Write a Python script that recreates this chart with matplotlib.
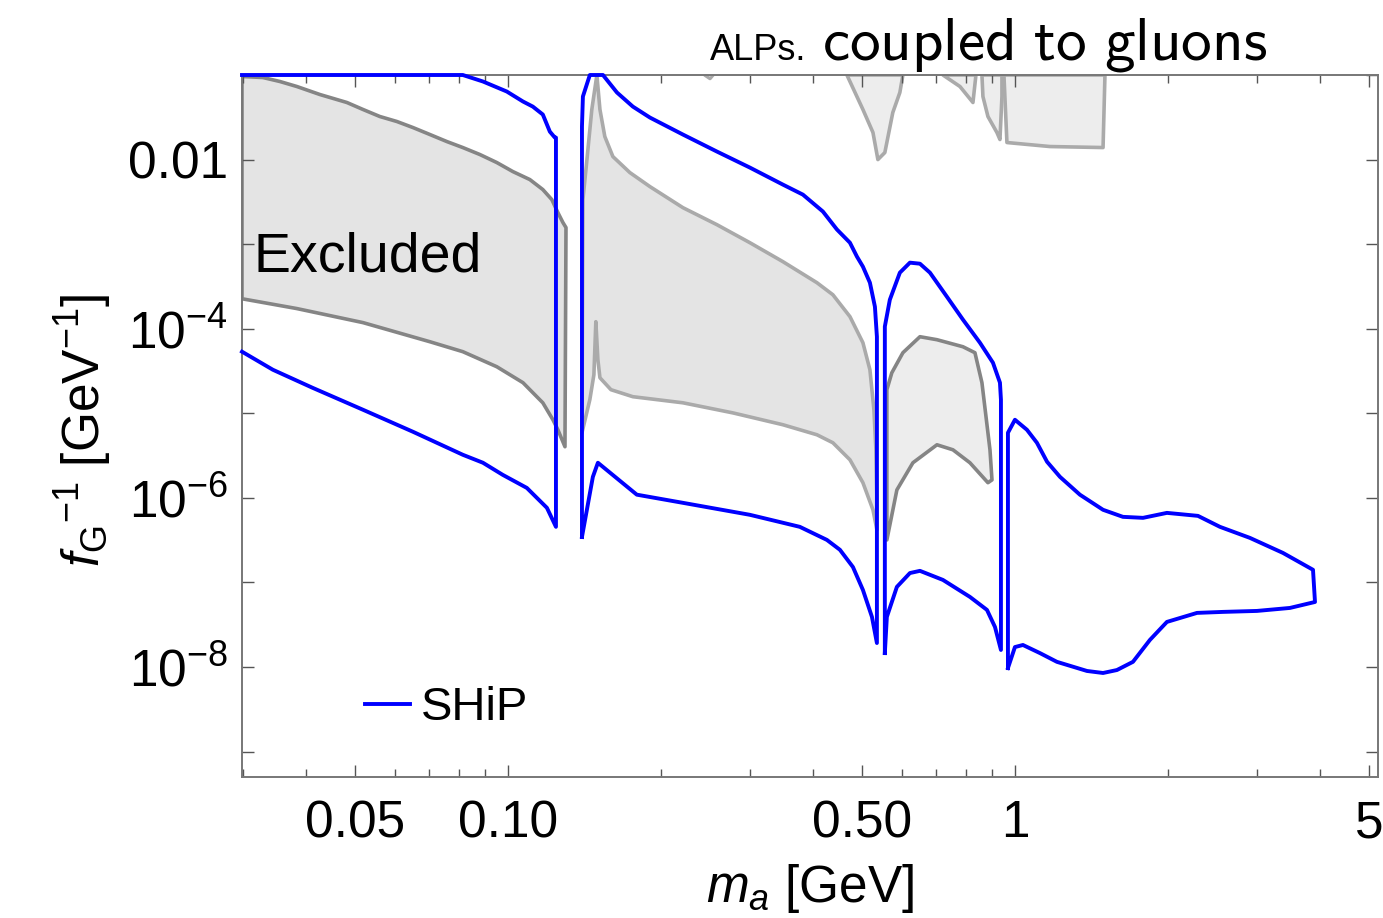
import matplotlib
matplotlib.use('Agg')
import matplotlib.pyplot as plt
import matplotlib.ticker as mticker

# ---- data: SHiP sensitivity contour (m_a [GeV], f_G^-1 [GeV^-1]), 4 pieces
ship_m1 = [0.0299, 0.0815, 0.0893, 0.0995, 0.1071, 0.1120, 0.1172, 0.1210, 0.1238, 0.1244,
           0.1244, 0.1194, 0.1090, 0.0977, 0.0893, 0.0815, 0.0650, 0.0518, 0.0412, 0.0344,
           0.0299]
ship_g1 = [0.1, 0.1, 0.0838, 0.0638, 0.0486, 0.0423, 0.0341, 0.0214, 0.0182, 0.0182,
           4.54e-7, 7.62e-7, 1.31e-6, 1.87e-6, 2.60e-6, 3.23e-6, 6.04e-6, 1.10e-5, 2.00e-5,
           3.27e-5, 5.35e-5]

ship_m2 = [0.1400, 0.1400, 0.1406, 0.1451, 0.1540, 0.1641, 0.1764, 0.1906, 0.2214, 0.2583,
           0.3001, 0.3486, 0.3818, 0.4181, 0.4456, 0.4727, 0.4880, 0.5014, 0.5176, 0.5295,
           0.5343, 0.5343,
           0.5224, 0.5014, 0.4792, 0.4517, 0.4258, 0.3765, 0.3001, 0.2214, 0.1796, 0.1505,
           0.1471, 0.1400]
ship_g2 = [3.45e-7, 0.0246, 0.0557, 0.1, 0.1, 0.0621, 0.0423, 0.0314, 0.01977, 0.01245,
           0.00804, 0.00506, 0.00385, 0.00243, 0.00149, 0.00104, 7.12e-4, 5.42e-4, 3.50e-4,
           1.82e-4, 8.04e-5, 1.92e-8,
           3.91e-8, 8.15e-8, 1.52e-7, 2.43e-7, 3.18e-7, 4.54e-7, 6.30e-7, 8.73e-7, 1.09e-6,
           2.60e-6, 1.77e-6, 3.45e-7]

ship_m3 = [0.5539, 0.5539, 0.5666, 0.5930, 0.6207, 0.6496, 0.6798, 0.7342, 0.7897, 0.8530,
           0.9050, 0.9342, 0.9384, 0.9384,
           0.9134, 0.8807, 0.8151, 0.7211, 0.6496, 0.6207, 0.5850, 0.5590, 0.5539]
ship_g3 = [1.46e-8, 1.06e-4, 2.20e-4, 4.60e-4, 6.04e-4, 5.87e-4, 4.60e-4, 2.39e-4, 1.28e-4,
           6.83e-5, 3.96e-5, 2.30e-5, 1.45e-5, 1.59e-8,
           2.97e-8, 4.73e-8, 6.74e-8, 1.07e-7, 1.37e-7, 1.29e-7, 8.85e-8, 3.91e-8, 1.46e-8]

ship_m4 = [0.9687, 0.9687, 1.0, 1.056, 1.105, 1.157, 1.227, 1.343, 1.492, 1.633, 1.789,
           1.994, 2.296, 2.537, 2.907, 3.378, 3.871, 3.906,
           3.486, 3.001, 2.572, 2.286, 1.994, 1.846, 1.709, 1.589, 1.492, 1.387, 1.210,
           1.120, 1.037, 1.0, 0.9687]
ship_g4 = [9.7e-9, 5.88e-6, 8.38e-6, 6.38e-6, 4.48e-6, 2.67e-6, 1.77e-6, 1.09e-6, 7.22e-7,
           5.96e-7, 5.80e-7, 6.64e-7, 6.12e-7, 4.54e-7, 3.36e-7, 2.23e-7, 1.41e-7, 5.87e-8,
           4.99e-8, 4.60e-8, 4.48e-8, 4.36e-8, 3.41e-8, 2.09e-8, 1.15e-8, 9.2e-9, 8.49e-9,
           8.97e-9, 1.15e-8, 1.46e-8, 1.82e-8, 1.72e-8, 9.7e-9]

# ---- data: excluded regions
excl1_m = [0.0299, 0.03287, 0.03551, 0.03836, 0.04258, 0.04814, 0.0518, 0.05591, 0.0604,
           0.0650, 0.0702, 0.0758, 0.0815, 0.0881, 0.0951, 0.1023, 0.1105, 0.1172, 0.1221,
           0.1255, 0.1284, 0.1302, 0.1296,
           0.1255, 0.1227, 0.1172, 0.1071, 0.0951, 0.0815, 0.0702, 0.0518, 0.03836, 0.0299]
excl1_g = [0.0960, 0.0934, 0.0838, 0.0731, 0.0588, 0.0473, 0.0391, 0.0323, 0.0282, 0.0239,
           0.01977, 0.01633, 0.01387, 0.01146, 0.00922, 0.00721, 0.00580, 0.00442, 0.00336,
           0.00236, 0.00180, 0.00157, 4.02e-6,
           6.38e-6, 8.38e-6, 1.33e-5, 2.30e-5, 3.55e-5, 5.35e-5, 7.01e-5, 1.18e-4, 1.73e-4,
           2.26e-4]

excl2_m = [0.1400, 0.1406, 0.1432, 0.1464, 0.1498, 0.1519, 0.1553, 0.1611, 0.1740, 0.1906,
           0.2214, 0.2583, 0.3001, 0.3486, 0.4069, 0.4375, 0.4727, 0.5014, 0.5176, 0.5271,
           0.5319, 0.5343, 0.5343,
           0.5248, 0.5014, 0.4727, 0.4375, 0.4069, 0.3486, 0.2779, 0.2214, 0.1764, 0.1597,
           0.1519, 0.1505, 0.1491, 0.1478, 0.1451, 0.1400]
excl2_g = [5.88e-6, 0.00336, 0.01, 0.0391, 0.1, 0.0391, 0.01873, 0.01085, 0.00702, 0.00479,
           0.00270, 0.00170, 0.00104, 6.21e-4, 3.50e-4, 2.52e-4, 1.39e-4, 6.83e-5, 3.27e-5,
           1.10e-5, 3.70e-6, 9.47e-7, 4.18e-7,
           7.22e-7, 1.51e-6, 2.82e-6, 4.48e-6, 5.57e-6, 7.32e-6, 1.01e-5, 1.33e-5, 1.57e-5,
           1.90e-5, 2.63e-5, 4.30e-5, 1.21e-4, 2.86e-5, 1.45e-5, 5.88e-6]

excl3_m = [0.5590, 0.5717, 0.6012, 0.6496, 0.7018, 0.7897, 0.8339, 0.8608, 0.8928,
           0.9010, 0.8846, 0.8151, 0.7546, 0.7018, 0.6292, 0.5850, 0.5590]
excl3_g = [1.90e-5, 3.01e-5, 5.20e-5, 8.04e-5, 7.41e-5, 6.12e-5, 5.20e-5, 2.30e-5, 3.70e-6,
           1.63e-6, 1.51e-6, 2.60e-6, 3.70e-6, 4.24e-6, 2.60e-6, 1.24e-6, 3.18e-7]

# small regions hanging from the top edge
top_m = [
    [0.4663, 0.5014, 0.5248, 0.5367, 0.5539, 0.5743, 0.5930, 0.6012],
    [0.7211, 0.7790, 0.8264, 0.8377],
    [0.8608, 0.8647, 0.8846, 0.9214, 0.9342, 0.9427, 0.9427],
    [0.9512, 0.9643, 1.172, 1.492, 1.505],
    [0.2446, 0.2504, 0.2537],
]
top_g = [
    [0.1, 0.0391, 0.0209, 0.01, 0.0121, 0.0360, 0.0621, 0.1],
    [0.1, 0.0731, 0.0473, 0.1],
    [0.1, 0.0557, 0.0323, 0.0209, 0.01726, 0.0557, 0.1],
    [0.1, 0.0159, 0.01426, 0.01387, 0.1],
    [0.1, 0.0910, 0.1],
]

x_major = [0.05, 0.1, 0.5, 1, 5]
x_major_labels = ['0.05', '0.10', '0.50', '1', '5']
x_minor = [0.03, 0.04, 0.06, 0.07, 0.08, 0.09, 0.2, 0.3, 0.4, 0.6, 0.7, 0.8, 0.9, 2, 3, 4]
y_major = [1e-9, 1e-8, 1e-7, 1e-6, 1e-5, 1e-4, 1e-3, 1e-2, 1e-1]
y_labels = {1e-2: '0.01', 1e-4: r'$10^{-4}$', 1e-6: r'$10^{-6}$', 1e-8: r'$10^{-8}$'}

# ---- style
plt.rcParams['font.family'] = ['Liberation Sans', 'DejaVu Sans']
plt.rcParams['mathtext.fontset'] = 'custom'
plt.rcParams['mathtext.rm'] = 'Liberation Sans'
plt.rcParams['mathtext.it'] = 'Liberation Sans:italic'
plt.rcParams['mathtext.bf'] = 'Liberation Sans:bold'

blue = '#0000ff'
dark_edge = '#858585'
light_edge = '#aaaaaa'

fig = plt.figure(figsize=(13.83, 9.18), dpi=100)
ax = fig.add_axes([242 / 1383, 1 - 777 / 918, 1136 / 1383, 702 / 918])
ax.set_xscale('log')
ax.set_yscale('log')

# excluded regions
ax.fill(excl1_m, excl1_g, facecolor='#e4e4e4', edgecolor=dark_edge, lw=2.6,
        joinstyle='round', zorder=1)
ax.fill(excl2_m, excl2_g, facecolor='#e4e4e4', edgecolor=light_edge, lw=2.6,
        joinstyle='round', zorder=1)
ax.fill(excl3_m, excl3_g, facecolor='#ededed', edgecolor=dark_edge, lw=2.6,
        joinstyle='round', zorder=1)
for m, g in zip(top_m, top_g):
    ax.fill(m, g, facecolor='#ededed', edgecolor=light_edge, lw=2.6, joinstyle='round', zorder=1)

# SHiP
pieces = [(ship_m1, ship_g1), (ship_m2, ship_g2), (ship_m3, ship_g3), (ship_m4, ship_g4)]
for i, (m, g) in enumerate(pieces):
    ax.plot(m, g, color=blue, lw=2.8, zorder=3, clip_on=False,
            solid_joinstyle='round', label='SHiP' if i == 0 else None)

ax.set_xlim(0.0299, 5.2)
ax.set_ylim(5e-10, 0.1)

# ticks
ax.xaxis.set_major_locator(mticker.FixedLocator(x_major))
ax.xaxis.set_major_formatter(mticker.FixedFormatter(x_major_labels))
ax.xaxis.set_minor_locator(mticker.FixedLocator(x_minor))
ax.xaxis.set_minor_formatter(mticker.NullFormatter())
ax.yaxis.set_major_locator(mticker.FixedLocator(y_major))
ax.yaxis.set_major_formatter(mticker.FixedFormatter([y_labels.get(v, '') for v in y_major]))
ax.yaxis.set_minor_locator(mticker.NullLocator())

ax.tick_params(which='both', direction='in', top=True, right=True, color='#555555', width=1.0)
ax.tick_params(which='major', length=8.5, labelsize=37)
ax.tick_params(which='minor', length=6)
ax.tick_params(axis='x', which='major', pad=16)
ax.tick_params(axis='y', which='major', pad=10)
for s in ax.spines.values():
    s.set_color('#777777')
    s.set_linewidth(1.4)

# labels and texts
ax.text(0.0097, 0.7194, 'Excluded', transform=ax.transAxes, fontsize=40, va='baseline')
fig.text(810 / 1383, 1 - 902 / 918, r'$m_a$ [GeV]', fontsize=37, ha='center', va='baseline')
fig.text(0.060, 1 - 430 / 918, r'${f_{\mathrm{G}}}^{-1}$ [GeV$^{-1}$]', fontsize=37,
         rotation=90, ha='center', va='center')
fig.text(710 / 1383, 1 - 60 / 918, 'ALPs.', fontsize=26, va='baseline')
fig.text(822 / 1383, 1 - 60 / 918, r'$\mathsf{coupled\ to\ gluons}$', fontsize=44,
         math_fontfamily='cm', va='baseline')

ax.legend(loc='center left', bbox_to_anchor=(0.108, 0.098), frameon=False, fontsize=34,
          handlelength=0.95, handletextpad=0.25, borderpad=0, borderaxespad=0)

fig.savefig('out.png', dpi=100)
